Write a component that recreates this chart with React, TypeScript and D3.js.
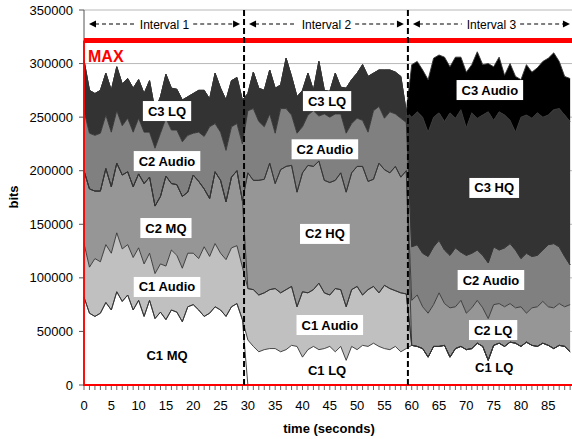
import { useEffect, useRef } from "react";
import * as d3 from "d3";

const W = 572;
const H = 439;

// time axis: one sample per second
const seconds = d3.range(90);
const xTicks = [0, 5, 10, 15, 20, 25, 30, 35, 40, 45, 50, 55, 60, 65, 70, 75, 80, 85];
const yTicks = [0, 50000, 100000, 150000, 200000, 250000, 300000, 350000];
const MAX_BITS = 321500;

// stream not active during an interval
const ZERO = [0, 0, 0, 0, 0, 0, 0, 0, 0, 0, 0, 0, 0, 0, 0, 0, 0, 0, 0, 0, 0, 0, 0, 0, 0, 0, 0, 0, 0, 0];

// per stream bitrate in kbit, interval 1 (0-29 s)
const c1mqI1 = [82, 67, 64, 67, 77, 70, 87, 78, 84, 70, 79, 64, 79, 62, 68, 61, 70, 68, 59, 73, 75, 70, 64, 67, 73, 70, 64, 73, 76, 61];
const c1audioI1 = [50, 43, 54, 48, 54, 53, 55, 49, 47, 49, 49, 49, 44, 42, 45, 50, 56, 53, 50, 50, 48, 48, 65, 53, 59, 53, 53, 55, 54, 49];
const c2mqI1 = [68, 73, 63, 66, 71, 62, 65, 69, 68, 66, 69, 75, 71, 63, 63, 84, 62, 66, 67, 57, 73, 72, 54, 54, 67, 68, 54, 66, 70, 62];
const c2audioI1 = [56, 52, 52, 54, 50, 51, 49, 46, 50, 51, 52, 48, 42, 54, 59, 54, 50, 51, 51, 53, 39, 46, 49, 67, 45, 45, 48, 47, 44, 53];
const c3lqI1 = [47, 40, 39, 40, 39, 39, 41, 39, 37, 41, 36, 36, 48, 35, 34, 41, 39, 38, 39, 36, 37, 39, 43, 26, 47, 41, 47, 43, 43, 41];

// interval 2 (30-59 s)
const c1lqI2 = [42, 36, 31, 33, 34, 34, 31, 33, 37, 36, 26, 33, 36, 33, 34, 36, 31, 36, 23, 36, 33, 37, 36, 39, 36, 34, 33, 36, 31, 34];
const c1audioI2 = [48, 53, 53, 53, 55, 56, 55, 56, 55, 37, 61, 53, 53, 62, 52, 48, 59, 53, 50, 53, 59, 47, 53, 53, 50, 59, 57, 52, 55, 51];
const c2hqI2 = [108, 102, 107, 106, 118, 98, 115, 115, 113, 107, 111, 119, 115, 114, 105, 105, 101, 109, 107, 109, 112, 120, 101, 100, 121, 108, 108, 116, 108, 115];
const c2audioI2 = [58, 67, 55, 49, 46, 47, 57, 54, 47, 55, 43, 47, 52, 42, 62, 61, 62, 55, 55, 46, 45, 43, 46, 64, 53, 48, 57, 49, 55, 45];
const c3lqI2 = [16, 34, 31, 34, 41, 42, 22, 47, 36, 34, 34, 39, 19, 51, 22, 24, 38, 25, 42, 41, 42, 52, 52, 35, 34, 45, 39, 39, 39, 10];

// interval 3 (60-89 s)
const c1lqI3 = [37, 36, 34, 26, 36, 36, 37, 26, 34, 36, 33, 34, 39, 36, 23, 37, 39, 36, 40, 39, 36, 40, 37, 36, 39, 37, 34, 37, 36, 31];
const c2lqI3 = [42, 48, 39, 41, 39, 50, 39, 46, 39, 43, 34, 38, 40, 36, 39, 38, 37, 37, 36, 33, 37, 27, 35, 37, 39, 36, 38, 39, 37, 44];
const c2audioI3 = [50, 47, 50, 53, 54, 49, 50, 49, 55, 45, 54, 51, 47, 49, 52, 54, 50, 55, 56, 54, 45, 56, 48, 48, 48, 58, 60, 53, 47, 37];
const c3hqI3 = [121, 124, 127, 116, 121, 119, 120, 133, 121, 133, 119, 131, 123, 131, 141, 118, 129, 124, 115, 110, 132, 129, 129, 133, 124, 121, 125, 129, 132, 134];
const c3audioI3 = [49, 47, 44, 49, 55, 54, 60, 43, 57, 49, 52, 45, 62, 47, 45, 50, 51, 37, 53, 52, 35, 47, 43, 42, 52, 53, 53, 44, 36, 40];

const series = [
  { key: "c1mq", fill: "#ffffff", values: [...c1mqI1, ...ZERO, ...ZERO] },
  { key: "c1lq", fill: "#ffffff", values: [...ZERO, ...c1lqI2, ...c1lqI3] },
  { key: "c1audio", fill: "#c0c0c0", values: [...c1audioI1, ...c1audioI2, ...ZERO] },
  { key: "c2mq", fill: "#969696", values: [...c2mqI1, ...ZERO, ...ZERO] },
  { key: "c2hq", fill: "#969696", values: [...ZERO, ...c2hqI2, ...ZERO] },
  { key: "c2lq", fill: "#969696", values: [...ZERO, ...ZERO, ...c2lqI3] },
  { key: "c2audio", fill: "#808080", values: [...c2audioI1, ...c2audioI2, ...c2audioI3] },
  { key: "c3lq", fill: "#333333", values: [...c3lqI1, ...c3lqI2, ...ZERO] },
  { key: "c3hq", fill: "#333333", values: [...ZERO, ...ZERO, ...c3hqI3] },
  { key: "c3audio", fill: "#000000", values: [...ZERO, ...ZERO, ...c3audioI3] },
];

const intervals = [
  { label: "Interval 1", from: 0, to: 29.3 },
  { label: "Interval 2", from: 29.3, to: 59.3 },
  { label: "Interval 3", from: 59.3, to: 89.7 },
];

// stream labels: text, second, bits, boxed
const labels: [string, number, number, boolean][] = [
  ["C3 LQ", 15.2, 255700, true],
  ["C2 Audio", 15.2, 209000, true],
  ["C2 MQ", 15.0, 146500, true],
  ["C1 Audio", 15.2, 91500, true],
  ["C1 MQ", 15.2, 28000, false],
  ["C3 LQ", 44.5, 265000, true],
  ["C2 Audio", 44.1, 220000, true],
  ["C2 HQ", 44.1, 141000, true],
  ["C1 Audio", 45.0, 56000, true],
  ["C1 LQ", 44.5, 14000, false],
  ["C3 Audio", 74.3, 275300, true],
  ["C3 HQ", 75.1, 183900, true],
  ["C2 Audio", 74.5, 98000, true],
  ["C2 LQ", 74.9, 51300, true],
  ["C1 LQ", 75.1, 15900, false],
];

const FONT = "'Liberation Sans', Arial, sans-serif";

export default function App() {
  const ref = useRef<SVGSVGElement>(null);

  useEffect(() => {
    if (!ref.current) return;
    const svg = d3.select(ref.current);
    svg.selectAll("*").remove();

    const x = d3.scaleLinear().domain([0, 90]).range([84, 575.6]);
    const y = d3.scaleLinear().domain([0, 350000]).range([385, 10]);

    svg.append("rect").attr("width", W).attr("height", H).attr("fill", "#fff");

    // grid
    svg
      .append("g")
      .selectAll("line")
      .data(yTicks.slice(1))
      .enter()
      .append("line")
      .attr("x1", x(0))
      .attr("x2", W)
      .attr("y1", (d) => y(d))
      .attr("y2", (d) => y(d))
      .attr("stroke", "#b8b8b8")
      .attr("stroke-width", 1);

    // stacked areas
    const rows = seconds.map((t, i) => {
      const r: any = { t };
      series.forEach((s) => (r[s.key] = s.values[i] * 1000));
      return r;
    });
    const stacked = d3.stack<any>().keys(series.map((s) => s.key))(rows);

    const area = d3
      .area<any>()
      .x((d) => x(d.data.t))
      .y0((d) => y(d[0]))
      .y1((d) => y(d[1]));
    const top = d3
      .line<any>()
      .x((d) => x(d.data.t))
      .y((d) => y(d[1]));

    svg
      .append("g")
      .selectAll("path")
      .data(stacked)
      .enter()
      .append("path")
      .attr("fill", (d, i) => series[i].fill)
      .attr("d", area as any);

    svg
      .append("g")
      .selectAll("path")
      .data(stacked)
      .enter()
      .append("path")
      .attr("fill", "none")
      .attr("stroke", "#333")
      .attr("stroke-width", 0.9)
      .attr("d", top as any);

    // axes
    svg
      .append("line")
      .attr("x1", x(0))
      .attr("x2", x(0))
      .attr("y1", y(350000))
      .attr("y2", y(0))
      .attr("stroke", "#555");

    svg
      .append("g")
      .selectAll("line")
      .data(yTicks)
      .enter()
      .append("line")
      .attr("x1", x(0) - 5)
      .attr("x2", x(0))
      .attr("y1", (d) => y(d))
      .attr("y2", (d) => y(d))
      .attr("stroke", "#555");

    svg
      .append("g")
      .selectAll("text")
      .data(yTicks)
      .enter()
      .append("text")
      .attr("x", x(0) - 11)
      .attr("y", (d) => y(d) + 4.5)
      .attr("text-anchor", "end")
      .style("font", `13px ${FONT}`)
      .text((d) => String(d));

    svg
      .append("g")
      .selectAll("line")
      .data(seconds)
      .enter()
      .append("line")
      .attr("x1", (d) => x(d))
      .attr("x2", (d) => x(d))
      .attr("y1", y(0))
      .attr("y2", y(0) + 5)
      .attr("stroke", "#666");

    svg
      .append("g")
      .selectAll("text")
      .data(xTicks)
      .enter()
      .append("text")
      .attr("x", (d) => x(d))
      .attr("y", 410)
      .attr("text-anchor", "middle")
      .style("font", `13px ${FONT}`)
      .text((d) => String(d));

    svg
      .append("text")
      .attr("x", 329)
      .attr("y", 433)
      .attr("text-anchor", "middle")
      .style("font", `bold 13px ${FONT}`)
      .text("time (seconds)");

    svg
      .append("text")
      .attr("transform", "translate(18,197) rotate(-90)")
      .attr("text-anchor", "middle")
      .style("font", `bold 13px ${FONT}`)
      .text("bits");

    // MAX capacity
    svg
      .append("path")
      .attr("d", `M${x(0)},${y(MAX_BITS)}V${y(0)}H${W + 5}`)
      .attr("fill", "none")
      .attr("stroke", "#ff0000")
      .attr("stroke-width", 1.8);
    svg
      .append("line")
      .attr("x1", x(0))
      .attr("x2", W)
      .attr("y1", y(MAX_BITS))
      .attr("y2", y(MAX_BITS))
      .attr("stroke", "#ff0000")
      .attr("stroke-width", 5);
    svg
      .append("text")
      .attr("x", x(0) + 4)
      .attr("y", y(MAX_BITS) + 21)
      .attr("fill", "#ff0000")
      .style("font", `bold 16px ${FONT}`)
      .text("MAX");

    // interval borders
    svg
      .append("g")
      .selectAll("line")
      .data(intervals.slice(1))
      .enter()
      .append("line")
      .attr("x1", (d) => x(d.from))
      .attr("x2", (d) => x(d.from))
      .attr("y1", y(350000))
      .attr("y2", y(0))
      .attr("stroke", "#000")
      .attr("stroke-width", 2)
      .attr("stroke-dasharray", "6,3");

    // interval arrows
    const ay = 24;
    intervals.forEach((iv) => {
      const x1 = x(iv.from) + 5;
      const x2 = x(iv.to) - 4;
      const g = svg.append("g");
      const t = g
        .append("text")
        .attr("x", (x1 + x2) / 2)
        .attr("y", ay + 4.5)
        .attr("text-anchor", "middle")
        .style("font", `12px ${FONT}`)
        .text(iv.label);
      const tw = (t.node() as SVGTextElement).getComputedTextLength();
      const tl = (x1 + x2) / 2 - tw / 2 - 5;
      const tr = (x1 + x2) / 2 + tw / 2 + 4;
      [
        [x1 + 6, tl],
        [tr, x2 - 6],
      ].forEach(([a, b]) =>
        g
          .append("line")
          .attr("x1", a)
          .attr("x2", b)
          .attr("y1", ay)
          .attr("y2", ay)
          .attr("stroke", "#000")
          .attr("stroke-width", 1.2)
          .attr("stroke-dasharray", "4,3")
      );
      g.append("path")
        .attr("d", `M${x1},${ay}L${x1 + 7},${ay - 3.5}L${x1 + 7},${ay + 3.5}Z`)
        .attr("fill", "#000");
      g.append("path")
        .attr("d", `M${x2},${ay}L${x2 - 7},${ay - 3.5}L${x2 - 7},${ay + 3.5}Z`)
        .attr("fill", "#000");
    });

    // stream labels
    labels.forEach(([txt, s, v, boxed]) => {
      const g = svg.append("g");
      const rect = g.append("rect").attr("fill", "#fff");
      const t = g
        .append("text")
        .attr("x", x(s))
        .attr("y", y(v) + 4.5)
        .attr("text-anchor", "middle")
        .style("font", `bold 13px ${FONT}`)
        .text(txt);
      const tw = (t.node() as SVGTextElement).getComputedTextLength();
      if (boxed) {
        rect
          .attr("x", x(s) - tw / 2 - 5)
          .attr("y", y(v) - 10)
          .attr("width", tw + 10)
          .attr("height", 20);
      } else {
        rect.remove();
      }
    });
  }, []);

  return (
    <svg
      ref={ref}
      width={W}
      height={H}
      style={{ position: "absolute", left: 0, top: 0 }}
    ></svg>
  );
}
